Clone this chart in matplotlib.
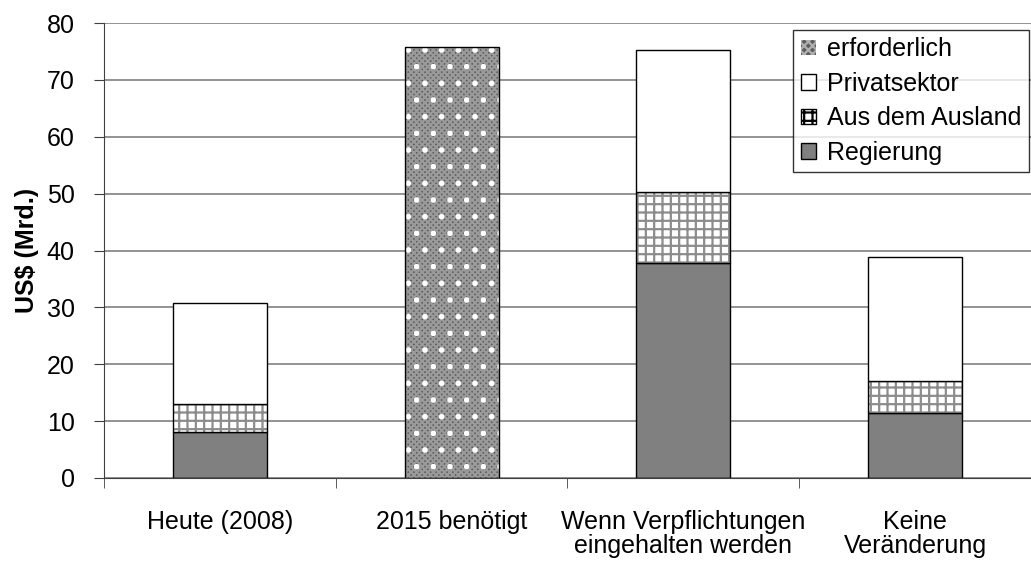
import numpy as np
import matplotlib
matplotlib.use("Agg")
from matplotlib import pyplot as plt
from matplotlib.patches import Patch

plt.rcParams['font.family'] = ['Liberation Sans', 'DejaVu Sans']
plt.rcParams['hatch.linewidth'] = 1.6

categories = ["Heute (2008)", "2015 benötigt", "Wenn Verpflichtungen\neingehalten werden", "Keine\nVeränderung"]
erforderlich = [0, 75.7, 0, 0]
regierung = [8.0, 0, 37.8, 11.4]
ausland = [5.0, 0, 12.5, 5.6]
privat = [17.7, 0, 25.0, 21.8]
labels = ["erforderlich", "Privatsektor", "Aus dem Ausland", "Regierung"]

x = np.arange(len(categories))
w = 0.405
FS = 18

fig = plt.figure(figsize=(10.31, 5.62), dpi=100)
ax = fig.add_axes([0.1009, 0.1495, 0.899, 0.8095])

ax.set_ylim(0, 80)
ax.set_xlim(-0.5, 3.5)
ax.set_yticks(range(0, 81, 10))
ax.yaxis.grid(True, color='#808080', linewidth=1.2)
ax.set_axisbelow(True)

reg = np.array(regierung)
aus = np.array(ausland)
priv = np.array(privat)

# stacked layers, hatch drawn first, outline on top
ax.bar(x, reg, w, color='#808080', edgecolor='black', linewidth=1)
ax.bar(x, aus, w, bottom=reg, color='white', edgecolor='#8c8c8c', hatch='++', linewidth=0)
ax.bar(x, aus, w, bottom=reg, fill=False, edgecolor='black', linewidth=1)
ax.bar(x, priv, w, bottom=reg + aus, color='white', edgecolor='black', linewidth=1)
ax.bar(x, erforderlich, w, color='#5e5e5e', edgecolor='#9a9a9a', hatch='xxxxxx', linewidth=0)
ax.bar(x, erforderlich, w, fill=False, edgecolor='white', hatch='.', linewidth=0)
ax.bar(x, erforderlich, w, fill=False, edgecolor='black', linewidth=1)

for s in ['top', 'right']:
    ax.spines[s].set_visible(False)
ax.spines['left'].set_color('#404040')
ax.spines['bottom'].set_color('#404040')

ax.set_xticks(x)
ax.set_xticklabels(categories, fontsize=FS, linespacing=1.0)
ax.tick_params(axis='x', length=0, pad=23)
ax.set_xticks(np.arange(-0.5, 3.6, 1), minor=True)
ax.tick_params(axis='x', which='minor', length=7, color='#404040')
ax.tick_params(axis='y', labelsize=FS, length=7, color='#404040', pad=14)

ax.set_ylabel("US$ (Mrd.)", fontsize=FS, fontweight='bold', labelpad=6)

handles = [
    Patch(facecolor='#5e5e5e', edgecolor='#b0b0b0', hatch='xxxx', linewidth=0),
    Patch(facecolor='white', edgecolor='black', linewidth=1),
    Patch(facecolor='white', edgecolor='black', hatch='++', linewidth=1),
    Patch(facecolor='#808080', edgecolor='black', linewidth=1),
]
leg = ax.legend(handles, labels, loc='upper right', bbox_to_anchor=(0.998, 0.985),
                fontsize=FS, frameon=True, fancybox=False, edgecolor='black',
                handlelength=0.6, handleheight=0.6, handletextpad=0.45,
                borderpad=0.3, labelspacing=0.42, borderaxespad=0)
leg.get_frame().set_linewidth(1)

fig.savefig("out.png", dpi=100)
